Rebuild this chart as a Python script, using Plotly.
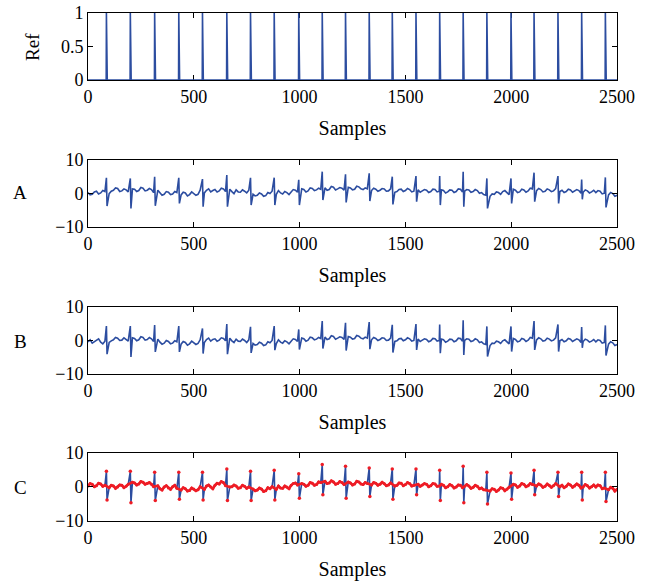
import plotly.graph_objects as go

# ---------------- data ----------------
samples_max = 2500
peaks = [87, 200, 315, 429, 541, 656, 768, 880, 996, 1107, 1217, 1329,
         1438, 1550, 1662, 1773, 1885, 1999, 2108, 2221, 2333, 2445]

grid_step = 10  # baseline values read every 10 samples (0..2500)

A_base = [0.2, -0.5, -0.3, 0.4, 0.6, -0.2, 0.1, 0.8, 0.5, 0.0, -0.1, 0.6, 0.9, 1.6, 1.4, 0.5, 0.7, 1.3, 1.0, 0.4,
          0.6, 1.3, 1.2, 0.5, 0.8, 1.7, 1.5, 0.7, 0.9, 1.4, 1.1, 0.2, 0.4, 0.9, 0.1, -0.6, -0.3, 0.5, 0.3, -0.4,
          -0.2, 0.5, 0.2, -0.7, -0.5, 0.3, 0.1, -0.8, -0.4, 0.4, 0.0, -0.6, -0.3, 0.9, 0.6, 0.1, 0.9, 1.3, 0.4, 0.8,
          1.1, 0.4, 0.7, 1.5, 1.3, 0.5, 0.8, 1.2, 0.5, -0.1, 1.0, 0.4, 0.3, 1.0, 0.6, 0.1, 0.9, 0.2, -0.3, -0.8,
          -0.6, 0.1, -0.2, -0.9, -0.7, 0.2, -0.1, 0.6, 0.3, -0.3, 0.8, 0.1, -0.2, 0.5, 0.2, -0.4, 0.4, 1.1, 0.9, 0.3,
          0.6, 1.3, 1.1, 0.4, 0.7, 1.6, 1.4, 0.8, 1.0, 1.5, 1.2, 1.9, 1.6, 0.9, 1.1, 2.0, 1.8, 1.0, 1.3, 1.7,
          1.5, 0.9, 1.0, 1.8, 1.6, 1.0, 1.2, 2.1, 1.9, 1.3, 1.1, 1.6, 1.3, 0.6, 0.8, 1.5, 1.2, 0.6, 0.9, 1.4,
          1.3, 0.6, 0.7, 1.3, 1.0, 0.3, 0.5, 1.1, 1.2, 0.5, 0.8, 1.4, 1.1, 0.4, 0.6, 1.2, 1.0, 0.3, 0.7, 1.1,
          0.9, 0.2, 0.5, 1.2, 1.1, 0.4, 0.6, 1.0, 0.8, 0.1, 0.4, 1.0, 0.9, 0.2, 0.5, 1.3, 1.2, 0.4, 0.6, 1.1,
          1.0, 0.3, 0.5, 1.1, 0.8, 0.0, 0.2, -0.4, -0.6, -1.3, -0.9, -0.2, -0.3, 0.4, 0.2, -0.3, 0.5, 0.8, 0.1, -0.4,
          0.6, 1.2, 0.9, 0.2, 0.4, 1.2, 1.0, 0.3, 0.7, 1.5, 1.3, 0.6, 0.8, 1.4, 1.1, 0.4, 0.6, 1.3, 1.0, 0.5,
          0.7, 1.4, 1.2, 0.5, 0.9, 0.2, 0.5, 1.2, 1.0, 0.3, 0.6, 1.1, 0.8, 0.0, 0.3, 1.0, 0.7, 0.1, 0.4, 0.9,
          0.2, 0.8, 0.6, -0.2, 0.0, -0.8, -0.5, 0.2, -0.1, -0.9, -0.6]
A_up = [4.6, 4.4, 4.9, 4.6, 4.2, 5.4, 4.6, 4.6, 4.0, 6.4, 5.6,
        5.9, 4.9, 5.1, 5.1, 6.4, 4.4, 4.4, 6.1, 5.1, 4.1, 4.7]
A_down = [-3.8, -4.5, -3.7, -3.0, -4.0, -4.0, -3.5, -3.5, -3.5, -2.0, -2.7,
          -2.3, -3.3, -2.5, -3.5, -4.0, -4.5, -3.0, -2.5, -3.0, -1.8, -4.2]

B_base = [-0.4, 0.2, -0.8, -0.3, 0.0, 0.5, -0.5, -1.0, -0.2, 0.3, -0.6, -0.1, 0.2, 0.9, 0.7, 0.0, 0.1, 0.8, 0.4, -0.2,
          0.0, 0.8, 0.6, -0.1, 0.2, 1.1, 0.9, 0.1, 0.3, 0.9, 0.5, -0.3, -0.2, 0.4, -0.5, -1.1, -0.8, 0.0, -0.3, -1.0,
          -0.8, -0.1, -0.4, -1.2, -1.1, -0.3, -0.6, -1.4, -1.0, -0.2, -0.6, -1.2, -0.9, 0.2, 0.0, -0.6, 0.3, 0.7, -0.2, 0.3,
          0.5, -0.2, 0.1, 0.8, 0.6, -0.1, 0.2, 0.7, -0.1, -0.6, 0.4, -0.2, -0.3, 0.4, 0.0, -0.6, 0.2, -0.4, -0.9, -1.4,
          -1.2, -0.5, -0.8, -1.5, -1.3, -0.4, -0.7, 0.0, -0.3, -0.9, 0.2, -0.5, -0.8, -0.1, -0.4, -1.0, -0.2, 0.5, 0.3, -0.3,
          0.0, 0.7, 0.5, -0.2, 0.1, 1.0, 0.8, 0.2, 0.4, 0.9, 0.6, 1.3, 1.0, 0.3, 0.5, 1.4, 1.2, 0.4, 0.7, 1.1,
          0.9, 0.3, 0.4, 1.2, 1.0, 0.4, 0.6, 1.5, 1.3, 0.7, 0.5, 1.0, 0.7, 0.0, 0.2, 0.9, 0.6, 0.0, 0.3, 0.8,
          0.7, 0.0, 0.1, 0.7, 0.4, -0.3, -0.1, 0.5, 0.6, -0.1, 0.2, 0.8, 0.5, -0.2, 0.0, 0.6, 0.4, -0.3, 0.1, 0.5,
          0.3, -0.4, -0.1, 0.6, 0.5, -0.2, 0.0, 0.4, 0.2, -0.5, -0.2, 0.4, 0.3, -0.4, -0.1, 0.7, 0.6, -0.2, 0.0, 0.5,
          0.4, -0.3, -0.1, 0.5, 0.2, -0.6, -0.4, -1.0, -1.2, -1.9, -1.5, -0.8, -0.9, -0.2, -0.4, -0.9, -0.1, 0.2, -0.5, -1.0,
          0.0, 0.6, 0.3, -0.4, -0.2, 0.6, 0.4, -0.3, 0.1, 0.9, 0.7, 0.0, 0.2, 0.8, 0.5, -0.2, 0.0, 0.7, 0.4, -0.1,
          0.1, 0.8, 0.6, -0.1, 0.3, -0.4, -0.1, 0.6, 0.4, -0.3, 0.0, 0.5, 0.2, -0.6, -0.3, 0.4, 0.1, -0.5, -0.2, 0.3,
          -0.4, 0.2, 0.0, -0.8, -0.6, -1.3, -1.1, -0.4, -0.7, -1.5, -1.2]
B_up = [4.3, 4.3, 4.6, 4.3, 3.6, 4.9, 4.1, 4.3, 3.3, 5.8, 5.3,
        5.5, 4.7, 4.9, 4.8, 6.0, 4.2, 4.2, 5.8, 4.8, 4.0, 4.5]
B_down = [-4.1, -4.9, -3.4, -3.4, -3.9, -4.1, -3.7, -2.9, -2.7, -2.4, -3.0,
          -2.6, -3.6, -2.8, -3.8, -4.3, -4.8, -3.3, -2.8, -3.3, -2.2, -4.5]

C_base = [0.3, 1.0, 0.8, 0.1, 0.4, 1.1, 0.9, 0.2, 0.5, -0.1, -0.2, 0.5, 0.3, -0.4, 0.0, 0.6, 0.5, -0.2, 0.2, 0.8,
          0.7, 1.4, 1.2, 0.6, 0.9, 1.6, 1.4, 0.8, 1.0, 1.3, 0.8, 0.1, -0.2, 0.4, -0.5, -0.9, 0.0, 0.4, -0.3, -0.7,
          0.1, 0.5, -0.4, -1.0, -0.9, -0.2, -0.5, -1.2, -1.0, -0.3, -0.6, -1.1, -0.8, 0.1, -0.2, -0.7, 0.3, 0.6, 0.0, -0.5,
          0.5, 1.1, 0.9, 1.6, 1.3, 0.4, 0.6, 0.0, 0.1, 0.6, 0.3, -0.4, -0.2, 0.5, 0.2, -0.4, 0.0, 0.5, -0.6, -1.1,
          -0.9, -0.3, -0.6, -1.3, -1.1, -0.2, -0.5, 0.1, -0.2, -0.7, 0.3, -0.3, -0.4, 0.3, 0.0, -0.5, 0.5, 1.0, 1.2, 0.6,
          0.4, 1.0, 0.8, 0.2, 0.5, 1.3, 1.1, 0.5, 0.7, 1.5, 1.3, 2.0, 1.7, 1.0, 1.2, 1.8, 1.5, 0.8, 1.0, 1.6,
          1.3, 0.7, 0.8, 1.5, 1.2, 0.6, 0.9, 1.7, 1.5, 0.9, 0.7, 1.3, 1.0, 0.3, 0.6, 1.3, 1.1, 0.5, 0.8, 1.4,
          1.0, 0.4, 0.6, 1.2, 0.9, 0.3, 0.5, 1.2, 1.1, 0.4, 0.7, 1.3, 1.0, 0.3, 0.5, 1.1, 0.8, 0.2, 0.6, 1.0,
          0.8, 0.1, 0.4, 1.0, 0.9, 0.2, 0.3, 0.8, 0.5, -0.2, 0.1, 0.7, 0.4, -0.3, 0.0, 0.6, 0.5, -0.2, 0.2, 0.7,
          0.3, -0.4, -0.1, 0.5, 0.2, -0.5, -0.3, -0.8, -0.9, -1.6, -1.2, -0.5, -0.7, -1.3, -0.9, -0.2, -0.4, -1.1, -0.7, -0.1,
          0.2, 0.8, 0.6, -0.1, 0.3, 1.0, 0.8, 0.1, 0.4, 1.0, 0.7, 0.0, 0.3, 0.9, 0.6, -0.1, 0.2, 0.9, 0.5, -0.1,
          0.4, 1.0, 0.8, 0.1, 0.5, -0.2, 0.2, 0.9, 0.6, -0.1, 0.3, 0.9, 0.5, -0.3, 0.0, 0.7, 0.4, -0.3, 0.1, 0.6,
          0.0, 0.6, 0.4, -0.5, -0.3, -1.1, -0.8, -0.1, -0.4, -1.2, -0.7]
C_up = [4.6, 4.6, 4.3, 4.3, 4.3, 5.3, 4.6, 4.9, 3.9, 6.6, 6.1,
        5.6, 5.3, 5.3, 4.9, 6.1, 4.3, 4.1, 4.9, 4.3, 4.3, 4.3]
C_down = [-3.8, -4.6, -4.0, -3.6, -3.8, -4.0, -4.0, -3.8, -3.3, -2.3, -3.3,
          -2.8, -3.6, -2.3, -4.0, -4.6, -5.0, -3.6, -2.3, -2.8, -3.8, -4.3]

x_ticks = [0, 500, 1000, 1500, 2000, 2500]

# ---------------- helpers ----------------
BLUE = "#2C4DA0"
RED = "#EE1C25"
FONT = "Liberation Serif"


def in_spike(x):
    return any(p - 1 <= x <= p + 5 for p in peaks)


def baseline_only(base):
    return [(i * grid_step, v) for i, v in enumerate(base) if not in_spike(i * grid_step)]


def with_spikes(base, up, down):
    pts = baseline_only(base)
    for p, u, d in zip(peaks, up, down):
        pts += [(p, u), (p + 3, d)]
    pts.sort()
    return [q[0] for q in pts], [q[1] for q in pts]


ref_x = list(range(samples_max + 1))
ref_y = [1 if i in peaks else 0 for i in ref_x]

fig = go.Figure()

fig.add_trace(go.Scatter(x=ref_x, y=ref_y, mode="lines", xaxis="x", yaxis="y",
                         line=dict(color=BLUE, width=1.6), showlegend=False))
ax, ay = with_spikes(A_base, A_up, A_down)
fig.add_trace(go.Scatter(x=ax, y=ay, mode="lines", xaxis="x2", yaxis="y2",
                         line=dict(color=BLUE, width=1.6), showlegend=False))
bx, by = with_spikes(B_base, B_up, B_down)
fig.add_trace(go.Scatter(x=bx, y=by, mode="lines", xaxis="x3", yaxis="y3",
                         line=dict(color=BLUE, width=1.6), showlegend=False))
cx, cy = with_spikes(C_base, C_up, C_down)
fig.add_trace(go.Scatter(x=cx, y=cy, mode="lines", xaxis="x4", yaxis="y4",
                         line=dict(color=BLUE, width=1.6), showlegend=False))
red_pts = baseline_only(C_base)
fig.add_trace(go.Scatter(x=[q[0] for q in red_pts], y=[q[1] for q in red_pts],
                         mode="lines+markers", xaxis="x4", yaxis="y4",
                         line=dict(color=RED, width=2.6),
                         marker=dict(color=RED, size=3), showlegend=False))
sx = peaks + [p + 3 for p in peaks]
sy = C_up + C_down
fig.add_trace(go.Scatter(x=sx, y=sy, mode="markers", xaxis="x4", yaxis="y4",
                         marker=dict(color=RED, size=3.5), showlegend=False))

domains = [[0.868, 1.0], [0.5787, 0.7116], [0.2894, 0.4213], [0.0, 0.1339]]

axis_common = dict(showline=True, linecolor="black", linewidth=1, mirror="ticks",
                   ticks="inside", ticklen=5, tickcolor="black", showgrid=False,
                   zeroline=False, ticklabeloverflow="allow",
                   tickfont=dict(family=FONT, size=18, color="black"))

layout = dict(width=659, height=584, margin=dict(l=88, r=42, t=13, b=63, autoexpand=False),
              plot_bgcolor="white", paper_bgcolor="white", showlegend=False,
              font=dict(family=FONT, color="black"))
for i, dom in enumerate(domains):
    sfx = "" if i == 0 else str(i + 1)
    layout["xaxis" + sfx] = dict(axis_common, range=[0, samples_max], tickvals=x_ticks,
                                 domain=[0, 1], anchor="y" + sfx,
                                 title=dict(text="Samples", standoff=15,
                                            font=dict(family=FONT, size=20, color="black")))
    if i == 0:
        layout["yaxis" + sfx] = dict(axis_common, range=[0, 1], tickvals=[0, 0.5, 1],
                                     domain=dom, anchor="x" + sfx)
    else:
        layout["yaxis" + sfx] = dict(axis_common, range=[-10, 10], tickvals=[-10, 0, 10],
                                     domain=dom, anchor="x" + sfx)
layout["xaxis"]["layer"] = "below traces"
layout["yaxis"]["layer"] = "below traces"

fig.update_layout(**layout)

ann = []
ann.append(dict(text="Ref", x=-0.106, y=0.933, xref="paper", yref="paper",
                xanchor="center", yanchor="middle",
                textangle=-90, showarrow=False, font=dict(family=FONT, size=19)))
for lab, yy in [("A", 0.6476), ("B", 0.3543), ("C", 0.0669)]:
    ann.append(dict(text=lab, x=-0.1285, y=yy, xref="paper", yref="paper",
                    xanchor="center", yanchor="middle",
                    showarrow=False, font=dict(family=FONT, size=19)))
fig.update_layout(annotations=ann)

# the figure fills the whole window, so drop the page's default body margin
fig.write_html("out.html", config={"displayModeBar": False},
               post_script="document.body.style.margin='0';")
